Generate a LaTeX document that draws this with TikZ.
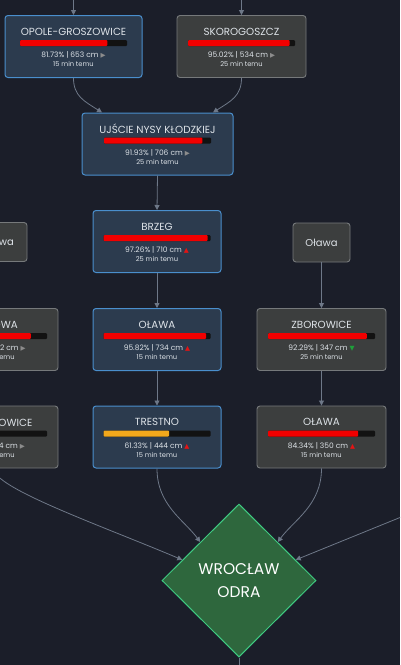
\documentclass[tikz,border=0pt]{standalone}
\usepackage{fontspec}
\setmainfont{Poppins}
\newfontfamily\symf{DejaVu Sans}
\usetikzlibrary{arrows.meta,shapes.geometric,calc}
\definecolor{bg}{HTML}{1B1E29}
\definecolor{bluefill}{HTML}{2C3B4E}
\definecolor{bluebd}{HTML}{4A8FCD}
\definecolor{grayfill}{HTML}{3C3E3E}
\definecolor{graybd}{HTML}{76797B}
\definecolor{txt}{HTML}{DDE2E7}
\definecolor{edgec}{HTML}{6E7888}
\definecolor{barbg}{HTML}{121212}
\definecolor{barred}{HTML}{F20000}
\definecolor{baryel}{HTML}{F2A81C}
\definecolor{tgray}{HTML}{8C8C8C}
\definecolor{tred}{HTML}{E41414}
\definecolor{tgreen}{HTML}{1FA03A}
\definecolor{dfill}{HTML}{2E673D}
\definecolor{dbd}{HTML}{3FCB82}
\newcommand\tpl{{\symf\fontsize{6.5}{6}\selectfont\color{tgray}▶}}
\newcommand\tup{{\symf\fontsize{6.5}{6}\selectfont\color{tred}▲}}
\newcommand\tdn{{\symf\fontsize{6.5}{6}\selectfont\color{tgreen}▼}}
\tikzset{
  bluebox/.style={draw=bluebd, fill=bluefill, line width=1pt, rounded corners=3pt, minimum height=62pt, inner sep=0pt},
  graybox/.style={draw=graybd, fill=grayfill, line width=0.9pt, rounded corners=3pt, minimum height=62pt, inner sep=0pt},
  smallbox/.style={draw=graybd, fill=grayfill, line width=0.9pt, rounded corners=3pt, minimum height=39pt, inner sep=0pt, text=txt, font=\fontsize{10}{12}\selectfont},
  ttl/.style={inner sep=0pt, text=txt, font=\fontsize{10.3}{12}\selectfont},
  stat/.style={inner sep=0pt, text=txt, font=\fontsize{7.5}{9}\selectfont},
  tm/.style={inner sep=0pt, text=txt, font=\fontsize{6.7}{8}\selectfont},
  edge/.style={draw=edgec, line width=0.8pt, -{Triangle[length=5pt,width=5pt]}},
  plain/.style={draw=edgec, line width=0.8pt},
}
\newcommand\stn[9]{%
  \node[#3, minimum width=#4pt] (#1) at (#2) {};
  \begin{scope}[shift={(#1.center)}]
    \node[ttl] (#1-t) at (0,-15) {#5};
    \fill[barbg, rounded corners=1pt] (-53.5,-6.5) rectangle (53.5,-0.5);
    \fill[#7, rounded corners=1pt] (-53.5,-6.5) rectangle ({-53.5+107*#6},-0.5);
    \node[stat] (#1-s) at (0,8.5) {#8};
    \node[tm] (#1-m) at (0,17.5) {#9};
  \end{scope}}
\begin{document}
\begin{tikzpicture}[x=1pt,y=-1pt]
\useasboundingbox (0,0) rectangle (400,665);
\fill[bg] (0,0) rectangle (400,665);
\begin{scope}
\clip (0,0) rectangle (400,665);
% stations
\stn{opo}{73.5,46.5}{bluebox}{137}{OPOLE-GROSZOWICE}{0.8173}{barred}{81.73\% | 653 cm \tpl}{15 min temu}
\stn{sko}{241.5,46.5}{graybox}{129}{SKOROGOSZCZ}{0.9502}{barred}{95.02\% | 534 cm \tpl}{25 min temu}
\stn{ujs}{157.5,144}{bluebox}{151}{UJŚCIE NYSY KŁODZKIEJ}{0.9193}{barred}{91.93\% | 706 cm \tpl}{25 min temu}
\stn{brz}{157,241.5}{bluebox}{128}{BRZEG}{0.9726}{barred}{97.26\% | 710 cm \tup}{25 min temu}
\node[smallbox, minimum width=67pt] (wid) at (-6.5,242) {Widawa};
\node[smallbox, minimum width=57pt] (olr) at (321.5,242.5) {Oława};
\stn{zby}{-6.5,339.5}{graybox}{129}{ZBYTOWA}{0.85}{barred}{85.12\% | 282 cm \tpl}{25 min temu}
\stn{ola}{157,339.5}{bluebox}{128}{OŁAWA}{0.9582}{barred}{95.82\% | 734 cm \tup}{15 min temu}
\stn{zbo}{321.5,339.5}{graybox}{129}{ZBOROWICE}{0.9229}{barred}{92.29\% | 347 cm \tdn}{25 min temu}
\stn{krz}{-6.5,437}{graybox}{129}{KRZYŻANOWICE}{0.40}{barred}{40.21\% | 144 cm \tpl}{25 min temu}
\stn{tre}{157,437}{bluebox}{128}{TRESTNO}{0.6133}{baryel}{61.33\% | 444 cm \tup}{15 min temu}
\stn{olb}{321.5,437}{graybox}{129}{OŁAWA}{0.8434}{barred}{84.34\% | 350 cm \tup}{15 min temu}
% target
\node[diamond, draw=dbd, fill=dfill, line width=1pt, minimum width=154pt, minimum height=153pt,
      inner sep=0pt, align=center, text=white, font=\fontsize{15.5}{23}\selectfont] (wro) at (239,580.5) {WROCŁAW\\ODRA};
% free ends
\coordinate (in1) at (73.5,-5);
\coordinate (in2) at (241.5,-5);
\coordinate (rsrc) at (480,485);
\coordinate (bot) at (239,680);
% edges
\draw[edge] (in1) -- (opo.north);
\draw[edge] (in2) -- (sko.north);
\draw[edge] (opo.south) .. controls (73.5,96) and (84,101) .. ($(ujs.north)+(-55.5,0)$);
\draw[edge] (sko.south) .. controls (241.5,96) and (231,101) .. ($(ujs.north)+(55.5,0)$);
\draw[edge] (ujs.south) -- (brz.north);
\draw[edge] (brz.south) -- (ola.north);
\draw[edge] (ola.south) -- (tre.north);
\draw[edge] (wid.south) -- (zby.north);
\draw[edge] (zby.south) -- (krz.north);
\draw[edge] (olr.south) -- (zbo.north);
\draw[edge] (zbo.south) -- (olb.north);
\draw[edge] (tre.south) .. controls (157,505) and (184,520) .. (wro.north west);
\draw[edge] (olb.south) .. controls (321.5,505) and (294,520) .. (wro.north east);
\draw[edge] (krz.south) .. controls (-6.5,488) and (100,525) .. (wro.160);
\draw[edge] (rsrc) -- (wro.20);
\draw[plain] (wro.south) -- (bot);
\end{scope}
\end{tikzpicture}
\end{document}
